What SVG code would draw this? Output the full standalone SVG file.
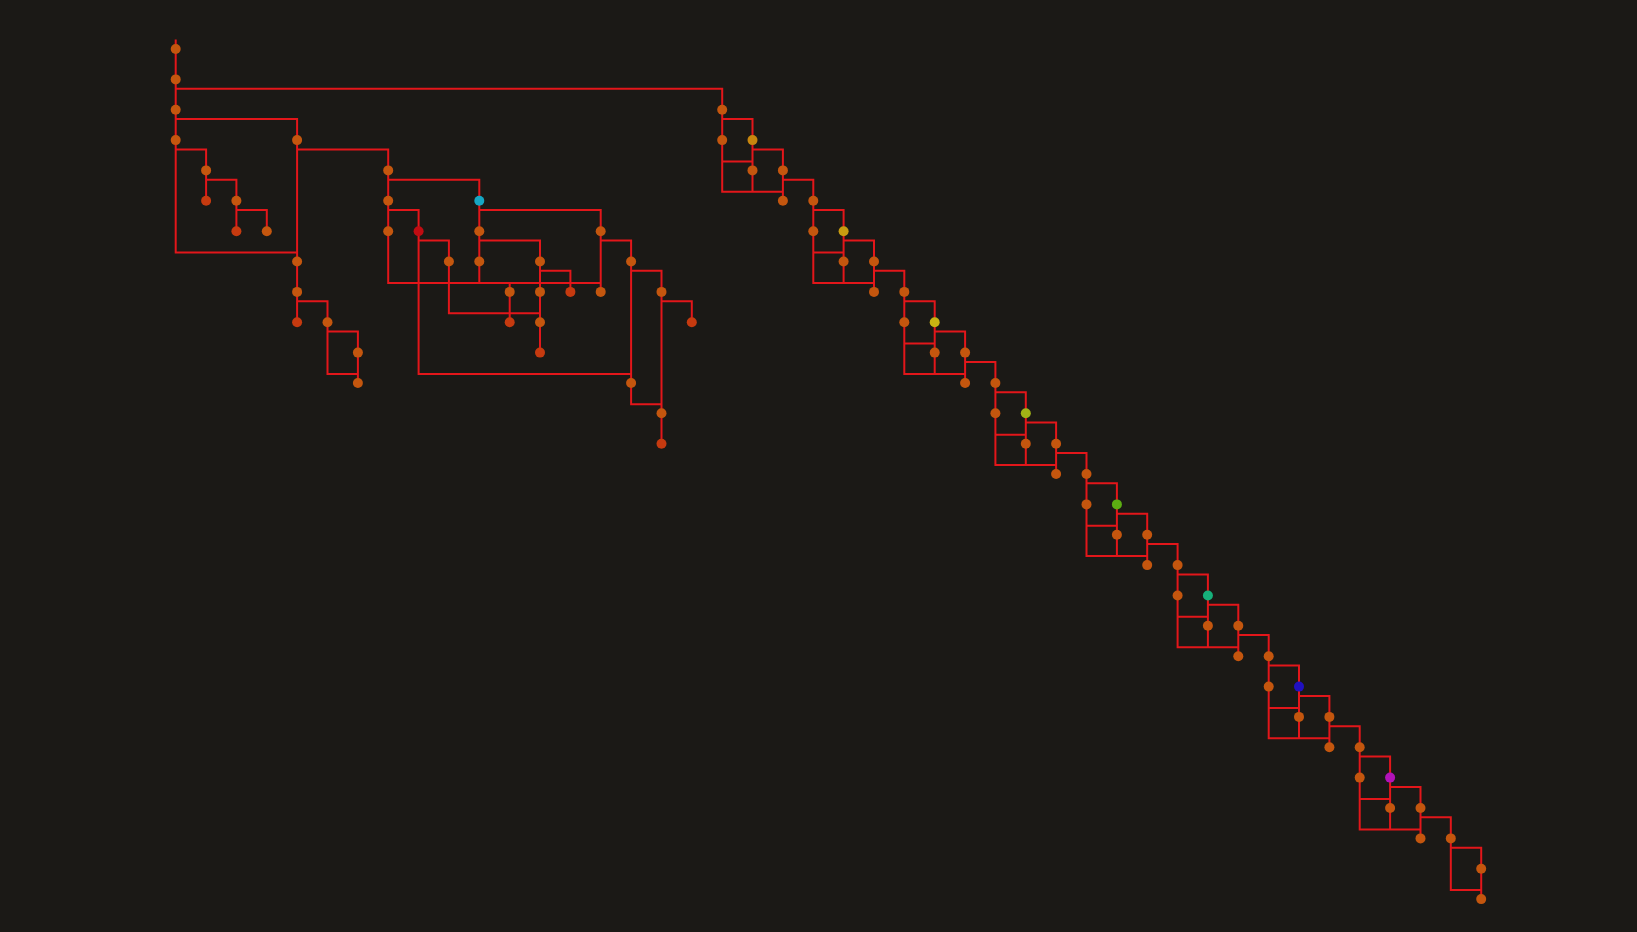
<svg xmlns="http://www.w3.org/2000/svg" width="1637" height="932" viewBox="0 0 1637 932">
<style>
.e{fill:none;stroke:#e3161a;stroke-width:2}
circle{r:5;fill:#c4560e}
.l circle{fill:#c63a0f}
</style>
<rect width="1637" height="932" fill="#1b1916"/>
<g id="connectors" class="e">
<path d="M175.7,39.5 V252.5 H297.1"/>
<path d="M175.7,88.7 H722.2 V109.7"/>
<path d="M175.7,119 H297.1 V322.2"/>
<path d="M175.7,149.4 H206.1 V200.8"/>
<path d="M206.1,179.7 H236.4 V231.2"/>
<path d="M236.4,210.1 H266.8 V231.2"/>
<path d="M297.1,149.4 H388.2 V283 H600.7"/>
<path d="M297.1,301.2 H327.5 V374 H357.9"/>
<path d="M327.5,331.5 H357.9 V383"/>
<path d="M388.2,179.7 H479.3 V283"/>
<path d="M388.2,210.1 H418.6 V374 H631.1"/>
<path d="M418.6,240.5 H448.9 V313.2 H540"/>
<path d="M479.3,210.1 H600.7 V291.9"/>
<path d="M479.3,240.5 H540 V352.6"/>
<path d="M540,270.8 H570.4 V291.9"/>
<path d="M509.7,283 V322.2"/>
<path d="M600.7,240.5 H631.1 V404.3 H661.5"/>
<path d="M631.1,270.8 H661.5 V443.7"/>
<path d="M661.5,301.2 H691.8 V322.2"/>
<path d="M722.2,109.7 V191.8 H782.9 M722.2,161.4 H752.5 M722.2,119 H752.5 V191.8 M752.5,149.4 H782.9 V200.8 M782.9,179.7 H813.3 V200.8"/>
<path d="M813.3,200.8 V282.9 H874 M813.3,252.5 H843.6 M813.3,210.1 H843.6 V282.9 M843.6,240.5 H874 V291.9 M874,270.8 H904.3 V291.9"/>
<path d="M904.3,291.9 V374 H965.1 M904.3,343.6 H934.7 M904.3,301.2 H934.7 V374 M934.7,331.5 H965.1 V383 M965.1,361.9 H995.4 V383"/>
<path d="M995.4,383 V465 H1056.1 M995.4,434.7 H1025.8 M995.4,392.3 H1025.8 V465 M1025.8,422.6 H1056.1 V474 M1056.1,453 H1086.5 V474"/>
<path d="M1086.5,474 V556.1 H1147.2 M1086.5,525.8 H1116.9 M1086.5,483.3 H1116.9 V556.1 M1116.9,513.7 H1147.2 V565.1 M1147.2,544.1 H1177.6 V565.1"/>
<path d="M1177.6,565.1 V647.2 H1238.3 M1177.6,616.8 H1207.9 M1177.6,574.4 H1207.9 V647.2 M1207.9,604.8 H1238.3 V656.2 M1238.3,635.1 H1268.7 V656.2"/>
<path d="M1268.7,656.2 V738.3 H1329.4 M1268.7,707.9 H1299 M1268.7,665.5 H1299 V738.3 M1299,695.9 H1329.4 V747.3 M1329.4,726.2 H1359.7 V747.3"/>
<path d="M1359.7,747.3 V829.4 H1420.5 M1359.7,799 H1390.1 M1359.7,756.6 H1390.1 V829.4 M1390.1,786.9 H1420.5 V838.4 M1420.5,817.3 H1450.8 V838.4"/>
<path d="M1450.8,838.4 V890.1 H1481.2 M1450.8,847.7 H1481.2 V899.1"/>
</g>
<g id="nodes">
<g id="n0_0"><circle cx="175.7" cy="49"/></g>
<g id="n0_1"><circle cx="175.7" cy="79.4"/></g>
<g id="n0_2"><circle cx="175.7" cy="109.7"/></g>
<g id="n0_3"><circle cx="175.7" cy="140.1"/></g>
<g id="n1_4"><circle cx="206.1" cy="170.4"/></g>
<g id="n1_5" class="l"><circle cx="206.1" cy="200.8"/></g>
<g id="n2_5"><circle cx="236.4" cy="200.8"/></g>
<g id="n2_6" class="l"><circle cx="236.4" cy="231.2"/></g>
<g id="n3_6"><circle cx="266.8" cy="231.2"/></g>
<g id="n4_3"><circle cx="297.1" cy="140.1"/></g>
<g id="n4_7"><circle cx="297.1" cy="261.5"/></g>
<g id="n4_8"><circle cx="297.1" cy="291.9"/></g>
<g id="n4_9" class="l"><circle cx="297.1" cy="322.2"/></g>
<g id="n5_9"><circle cx="327.5" cy="322.2"/></g>
<g id="n6_10"><circle cx="357.9" cy="352.6"/></g>
<g id="n6_11"><circle cx="357.9" cy="383"/></g>
<g id="n7_4"><circle cx="388.2" cy="170.4"/></g>
<g id="n7_5"><circle cx="388.2" cy="200.8"/></g>
<g id="n7_6"><circle cx="388.2" cy="231.2"/></g>
<g id="n8_6"><circle cx="418.6" cy="231.2" style="fill:#c00c12"/></g>
<g id="n9_7"><circle cx="448.9" cy="261.5"/></g>
<g id="n10_5"><circle cx="479.3" cy="200.8" style="fill:#16a6c4"/></g>
<g id="n10_6"><circle cx="479.3" cy="231.2"/></g>
<g id="n10_7"><circle cx="479.3" cy="261.5"/></g>
<g id="n11_8"><circle cx="509.7" cy="291.9"/></g>
<g id="n11_9" class="l"><circle cx="509.7" cy="322.2"/></g>
<g id="n12_7"><circle cx="540" cy="261.5"/></g>
<g id="n12_8"><circle cx="540" cy="291.9"/></g>
<g id="n12_9"><circle cx="540" cy="322.2"/></g>
<g id="n12_10" class="l"><circle cx="540" cy="352.6"/></g>
<g id="n13_8" class="l"><circle cx="570.4" cy="291.9"/></g>
<g id="n14_6"><circle cx="600.7" cy="231.2"/></g>
<g id="n14_8"><circle cx="600.7" cy="291.9"/></g>
<g id="n15_7"><circle cx="631.1" cy="261.5"/></g>
<g id="n15_11"><circle cx="631.1" cy="383"/></g>
<g id="n16_8"><circle cx="661.5" cy="291.9"/></g>
<g id="n16_12"><circle cx="661.5" cy="413.3"/></g>
<g id="n16_13" class="l"><circle cx="661.5" cy="443.7"/></g>
<g id="n17_9" class="l"><circle cx="691.8" cy="322.2"/></g>

<g id="n18_2"><circle cx="722.2" cy="109.7"/></g>
<g id="n18_3"><circle cx="722.2" cy="140.1"/></g>
<g id="n19_3"><circle cx="752.5" cy="140.1" style="fill:#c8860e"/></g>
<g id="n19_4"><circle cx="752.5" cy="170.4"/></g>
<g id="n20_4"><circle cx="782.9" cy="170.4"/></g>
<g id="n20_5"><circle cx="782.9" cy="200.8"/></g>

<g id="n21_5"><circle cx="813.3" cy="200.8"/></g>
<g id="n21_6"><circle cx="813.3" cy="231.2"/></g>
<g id="n22_6"><circle cx="843.6" cy="231.2" style="fill:#c89c10"/></g>
<g id="n22_7"><circle cx="843.6" cy="261.5"/></g>
<g id="n23_7"><circle cx="874" cy="261.5"/></g>
<g id="n23_8"><circle cx="874" cy="291.9"/></g>

<g id="n24_8"><circle cx="904.3" cy="291.9"/></g>
<g id="n24_9"><circle cx="904.3" cy="322.2"/></g>
<g id="n25_9"><circle cx="934.7" cy="322.2" style="fill:#c8b412"/></g>
<g id="n25_10"><circle cx="934.7" cy="352.6"/></g>
<g id="n26_10"><circle cx="965.1" cy="352.6"/></g>
<g id="n26_11"><circle cx="965.1" cy="383"/></g>

<g id="n27_11"><circle cx="995.4" cy="383"/></g>
<g id="n27_12"><circle cx="995.4" cy="413.3"/></g>
<g id="n28_12"><circle cx="1025.8" cy="413.3" style="fill:#a2b416"/></g>
<g id="n28_13"><circle cx="1025.8" cy="443.7"/></g>
<g id="n29_13"><circle cx="1056.1" cy="443.7"/></g>
<g id="n29_14"><circle cx="1056.1" cy="474"/></g>

<g id="n30_14"><circle cx="1086.5" cy="474"/></g>
<g id="n30_15"><circle cx="1086.5" cy="504.4"/></g>
<g id="n31_15"><circle cx="1116.9" cy="504.4" style="fill:#5cae12"/></g>
<g id="n31_16"><circle cx="1116.9" cy="534.8"/></g>
<g id="n32_16"><circle cx="1147.2" cy="534.8"/></g>
<g id="n32_17"><circle cx="1147.2" cy="565.1"/></g>

<g id="n33_17"><circle cx="1177.6" cy="565.1"/></g>
<g id="n33_18"><circle cx="1177.6" cy="595.5"/></g>
<g id="n34_18"><circle cx="1207.9" cy="595.5" style="fill:#16b07a"/></g>
<g id="n34_19"><circle cx="1207.9" cy="625.8"/></g>
<g id="n35_19"><circle cx="1238.3" cy="625.8"/></g>
<g id="n35_20"><circle cx="1238.3" cy="656.2"/></g>

<g id="n36_20"><circle cx="1268.7" cy="656.2"/></g>
<g id="n36_21"><circle cx="1268.7" cy="686.6"/></g>
<g id="n37_21"><circle cx="1299" cy="686.6" style="fill:#2010c0"/></g>
<g id="n37_22"><circle cx="1299" cy="716.9"/></g>
<g id="n38_22"><circle cx="1329.4" cy="716.9"/></g>
<g id="n38_23"><circle cx="1329.4" cy="747.3"/></g>

<g id="n39_23"><circle cx="1359.7" cy="747.3"/></g>
<g id="n39_24"><circle cx="1359.7" cy="777.6"/></g>
<g id="n40_24"><circle cx="1390.1" cy="777.6" style="fill:#b212b8"/></g>
<g id="n40_25"><circle cx="1390.1" cy="808"/></g>
<g id="n41_25"><circle cx="1420.5" cy="808"/></g>
<g id="n41_26"><circle cx="1420.5" cy="838.4"/></g>

<g id="n42_26"><circle cx="1450.8" cy="838.4"/></g>
<g id="n43_27"><circle cx="1481.2" cy="868.7"/></g>
<g id="n43_28"><circle cx="1481.2" cy="899.1"/></g>
</g>
</svg>
